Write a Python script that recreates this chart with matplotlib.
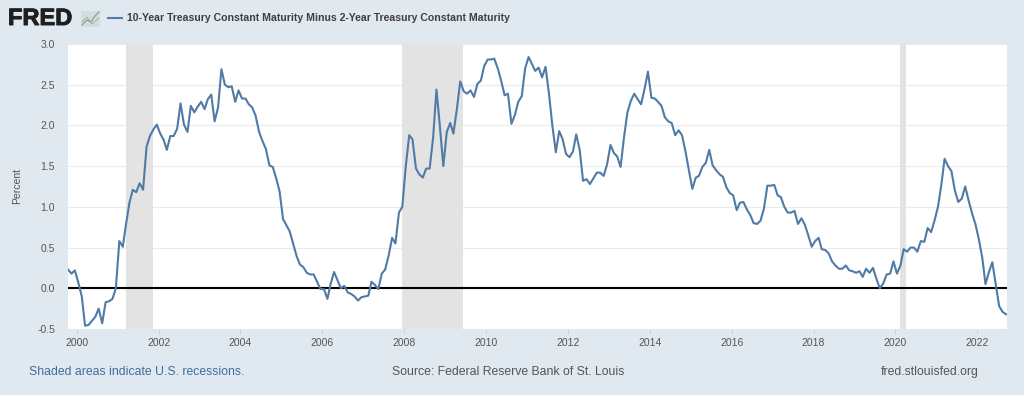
import pandas as pd
import matplotlib.pyplot as plt
import matplotlib.patheffects as pe
from matplotlib.lines import Line2D
from matplotlib.patches import Rectangle

plt.rcParams['font.family'] = ['Liberation Sans', 'DejaVu Sans']

# Monthly spread, in chunks
spread_1999_2003 = [0.23, 0.18, 0.22, 0.07, -0.10, -0.46, -0.45, -0.40, -0.35, -0.25, -0.43, -0.17,
                    -0.16, -0.13, 0.00, 0.58, 0.51, 0.78, 1.05, 1.21, 1.18, 1.29, 1.21, 1.74,
                    1.87, 1.95, 2.01, 1.90, 1.82, 1.70, 1.87, 1.87, 1.96, 2.27, 2.01, 1.92,
                    2.24, 2.16, 2.23, 2.29, 2.20, 2.32, 2.38, 2.05, 2.22, 2.69, 2.50, 2.47]
spread_2003_2007 = [2.48, 2.29, 2.43, 2.33, 2.33, 2.26, 2.22, 2.12, 1.92, 1.81, 1.71, 1.51,
                    1.49, 1.35, 1.19, 0.85, 0.77, 0.70, 0.55, 0.40, 0.29, 0.26, 0.19, 0.17,
                    0.17, 0.08, -0.01, -0.01, -0.13, 0.05, 0.20, 0.10, 0.00, 0.03, -0.05, -0.07,
                    -0.10, -0.15, -0.11, -0.10, -0.09, 0.08, 0.04, -0.01, 0.18, 0.23, 0.40, 0.62]
spread_2007_2011 = [0.55, 0.93, 1.00, 1.50, 1.88, 1.83, 1.47, 1.40, 1.36, 1.47, 1.47, 1.85,
                    2.44, 1.98, 1.50, 1.92, 2.03, 1.90, 2.20, 2.54, 2.42, 2.39, 2.43, 2.35,
                    2.51, 2.55, 2.73, 2.81, 2.81, 2.82, 2.70, 2.55, 2.37, 2.39, 2.02, 2.13,
                    2.29, 2.36, 2.70, 2.84, 2.75, 2.67, 2.71, 2.59, 2.72, 2.40, 2.00, 1.67]
spread_2011_2015 = [1.93, 1.83, 1.65, 1.61, 1.68, 1.89, 1.70, 1.32, 1.34, 1.28, 1.35, 1.42,
                    1.42, 1.38, 1.52, 1.76, 1.66, 1.62, 1.49, 1.85, 2.16, 2.30, 2.39, 2.32,
                    2.26, 2.45, 2.66, 2.34, 2.33, 2.29, 2.24, 2.10, 2.05, 2.03, 1.88, 1.94,
                    1.88, 1.68, 1.45, 1.22, 1.36, 1.38, 1.49, 1.54, 1.70, 1.51, 1.45, 1.40]
spread_2015_2019 = [1.37, 1.24, 1.17, 1.14, 0.96, 1.05, 1.06, 0.97, 0.90, 0.80, 0.79, 0.83,
                    0.98, 1.26, 1.26, 1.27, 1.14, 1.12, 1.00, 0.93, 0.93, 0.95, 0.79, 0.86,
                    0.78, 0.65, 0.51, 0.58, 0.62, 0.48, 0.47, 0.43, 0.33, 0.28, 0.24, 0.24,
                    0.28, 0.22, 0.21, 0.19, 0.21, 0.14, 0.24, 0.19, 0.25, 0.12, 0.00, 0.06]
spread_2019_2022 = [0.17, 0.18, 0.33, 0.18, 0.28, 0.48, 0.45, 0.50, 0.50, 0.45, 0.58, 0.57,
                    0.74, 0.69, 0.83, 1.00, 1.28, 1.59, 1.50, 1.44, 1.20, 1.06, 1.10, 1.25,
                    1.08, 0.92, 0.79, 0.60, 0.37, 0.05, 0.20, 0.32, 0.05, -0.22, -0.29, -0.32]

spread = (spread_1999_2003 + spread_2003_2007 + spread_2007_2011
          + spread_2011_2015 + spread_2015_2019 + spread_2019_2022)

# FRED draws monthly points a little after the first of the month
dates = pd.date_range('1999-10-01', periods=len(spread), freq='MS') + pd.Timedelta(days=14)

recession_start = ['2001-03-13', '2007-12-13', '2020-02-08']
recession_end = ['2001-11-10', '2009-06-12', '2020-04-07']

y_ticks = [-0.5, 0.0, 0.5, 1.0, 1.5, 2.0, 2.5, 3.0]
x_years = list(range(2000, 2023, 2))

bg = '#e1e9f0'
W, H = 1024, 395

fig = plt.figure(figsize=(W / 100, H / 100), dpi=100, facecolor=bg)
ax = fig.add_axes([68 / W, 1 - 329 / H, (1007 - 68) / W, (329 - 44) / H])

for start, end in zip(recession_start, recession_end):
    ax.axvspan(pd.Timestamp(start), pd.Timestamp(end), color='#e3e3e3', lw=0, zorder=1)

ax.axhline(0, color='black', lw=1.5, zorder=3)
ax.plot(dates, spread, color='#4f7ba6', lw=1.5, solid_joinstyle='round', zorder=4)

# about 40.9 px per year across 939 px of plot
ax.set_xlim(dates[0], dates[0] + pd.Timedelta(days=8379))
ax.set_ylim(-0.5, 3.0)
ax.set_yticks(y_ticks)
ax.set_yticklabels([f'{v:.1f}' for v in y_ticks])
ax.set_xticks([pd.Timestamp(f'{y}-01-01') for y in x_years])
ax.set_xticklabels([str(y) for y in x_years])
ax.grid(axis='y', color='#ebebeb', lw=0.8, zorder=0)
ax.set_axisbelow(True)
for s in ax.spines.values():
    s.set_visible(False)
ax.tick_params(axis='y', length=0, pad=9.4, labelsize=7.5, labelcolor='#555555')
ax.tick_params(axis='x', length=3.5, width=0.7, color='#c8d4df', pad=3, labelsize=7.5, labelcolor='#555555')

fig.text(17 / W, 1 - 186 / H, 'Percent', rotation=90, ha='center', va='center', fontsize=7.5, color='#555555')

# Header: logo text, little chart icon, legend
logo = fig.text(8 / W, 1 - 18.5 / H, 'FRED', ha='left', va='center', fontsize=17, fontweight='bold', color='#1f1f1f')
logo.set_path_effects([pe.withStroke(linewidth=0.7, foreground='#1f1f1f')])
fig.add_artist(Rectangle((81 / W, 1 - 27 / H), 19 / W, 16 / H, transform=fig.transFigure,
                         facecolor='#d3dde0', edgecolor='none'))
fig.add_artist(Line2D([82 / W, 87 / W, 91 / W, 95 / W, 99 / W],
                      [1 - 25 / H, 1 - 20 / H, 1 - 22 / H, 1 - 16 / H, 1 - 12 / H],
                      color='#7f9f7a', lw=0.8))
fig.add_artist(Line2D([82 / W, 87 / W, 92 / W, 99 / W],
                      [1 - 22 / H, 1 - 17 / H, 1 - 24 / H, 1 - 18 / H],
                      color='#a0a8a0', lw=0.6))
fig.add_artist(Line2D([108 / W, 122 / W], [1 - 18 / H, 1 - 18 / H], color='#4f7ba6', lw=1.5))
fig.text(127 / W, 1 - 18 / H, '10-Year Treasury Constant Maturity Minus 2-Year Treasury Constant Maturity',
         ha='left', va='center', fontsize=7.6, fontweight='bold', color='#3f3f3f')

# Footer
fig.text(29 / W, 1 - 372 / H, 'Shaded areas indicate U.S. recessions.', ha='left', va='center',
         fontsize=8.8, color='#3f6d9e')
fig.text(392 / W, 1 - 372 / H, 'Source: Federal Reserve Bank of St. Louis', ha='left', va='center',
         fontsize=8.8, color='#555555')
fig.text(979 / W, 1 - 372 / H, 'fred.stlouisfed.org', ha='right', va='center',
         fontsize=8.8, color='#555555')

fig.savefig('out.png', dpi=100, facecolor=bg)
